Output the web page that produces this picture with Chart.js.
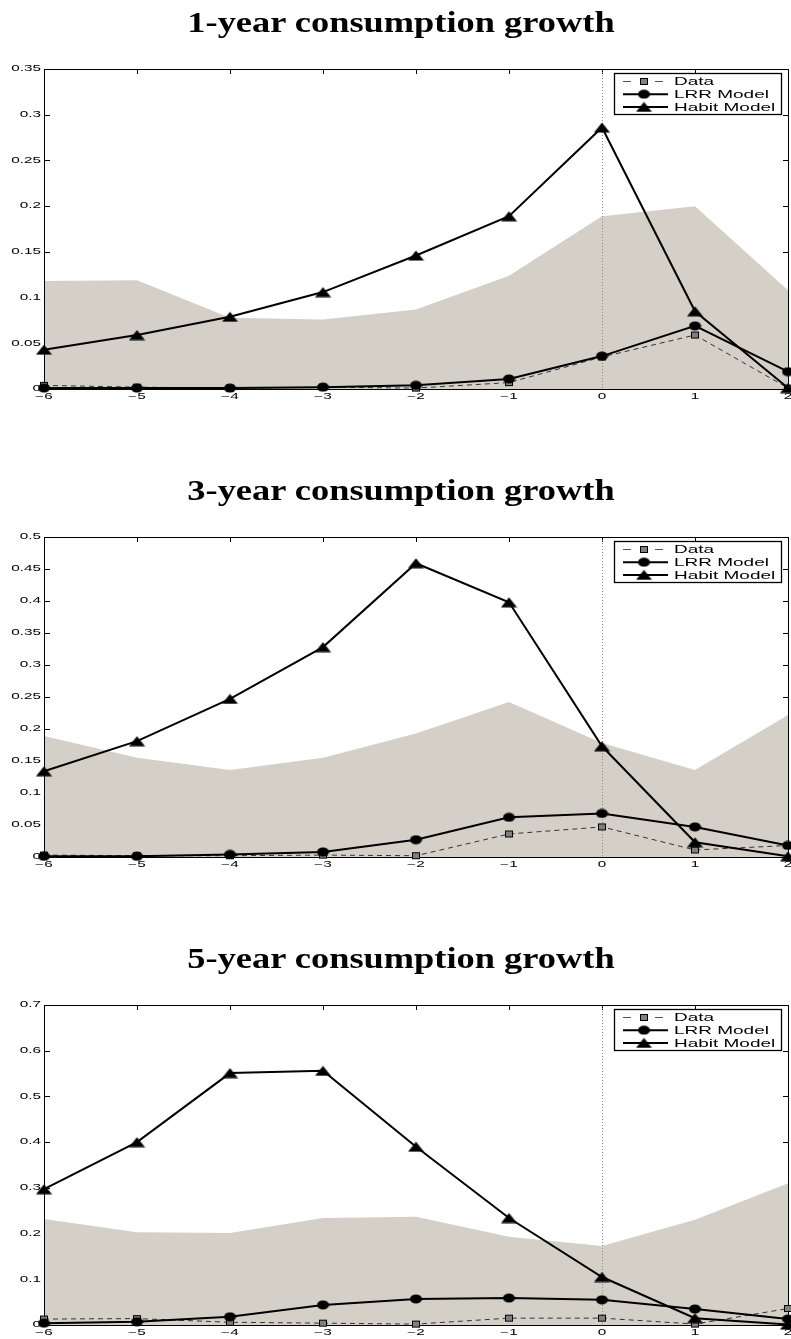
<!DOCTYPE html>
<html>
<head>
<meta charset="utf-8">
<script src="https://cdn.jsdelivr.net/npm/chart.js@4.4.1/dist/chart.umd.min.js"></script>
<style>
body { margin: 0; background: #fff; width: 791px; height: 1339px; overflow: hidden; position: relative; }
canvas { position: absolute; left: 0; }
.ttl { position: absolute; left: 401px; white-space: nowrap; font: bold 29px "Liberation Serif", serif; line-height: 30px; color: #000; transform-origin: center; }
</style>
</head>
<body>
<canvas id="c0" width="791" height="468" style="top:0"></canvas>
<canvas id="c1" width="791" height="468" style="top:468px"></canvas>
<canvas id="c2" width="791" height="403" style="top:936px"></canvas>
<div class="ttl" id="t0" style="top:7px"></div>
<div class="ttl" id="t1" style="top:475px"></div>
<div class="ttl" id="t2" style="top:943px"></div>
<script>
// horizon in years relative to the event
const xLabels = ['\u22126', '\u22125', '\u22124', '\u22123', '\u22122', '\u22121', '0', '1', '2'];
const titles = ['1-year consumption growth', '3-year consumption growth', '5-year consumption growth'];
const seriesNames = ['Data', 'LRR Model', 'Habit Model'];

// y axis tick settings per panel
const yMax = [0.35, 0.5, 0.7];
const yStep = [0.05, 0.05, 0.1];

// shaded band (upper edge, filled down to zero)
const band1 = [0.118, 0.119, 0.078, 0.076, 0.087, 0.124, 0.189, 0.200, 0.108];
const band3 = [0.189, 0.155, 0.136, 0.155, 0.193, 0.242, 0.178, 0.136, 0.222];
const band5 = [0.232, 0.203, 0.201, 0.234, 0.237, 0.193, 0.173, 0.230, 0.310];

const data1 = [0.004, 0.002, 0.001, 0.002, 0.001, 0.007, 0.035, 0.059, 0.001];
const data3 = [0.003, 0.002, 0.002, 0.003, 0.002, 0.036, 0.047, 0.011, 0.018];
const data5 = [0.013, 0.014, 0.006, 0.004, 0.002, 0.015, 0.015, 0.002, 0.036];

const lrr1 = [0.001, 0.001, 0.001, 0.002, 0.004, 0.011, 0.036, 0.069, 0.019];
const lrr3 = [0.001, 0.001, 0.004, 0.008, 0.027, 0.062, 0.068, 0.047, 0.018];
const lrr5 = [0.004, 0.007, 0.018, 0.044, 0.057, 0.059, 0.055, 0.035, 0.013];

const habit1 = [0.043, 0.059, 0.079, 0.106, 0.146, 0.189, 0.286, 0.085, 0.001];
const habit3 = [0.134, 0.181, 0.247, 0.328, 0.459, 0.398, 0.173, 0.023, 0.001];
const habit5 = [0.297, 0.400, 0.551, 0.556, 0.390, 0.234, 0.105, 0.015, 0.001];

const bands = [band1, band3, band5];
const datas = [data1, data3, data5];
const lrrs = [lrr1, lrr3, lrr5];
const habits = [habit1, habit3, habit5];

const bandColor = '#d4d0c8';
const PLOT_TOP = 69, PLOT_BOTTOM = 389;

function marker(w, h, draw) {
    const c = document.createElement('canvas');
    c.width = w; c.height = h;
    draw(c.getContext('2d'), w, h);
    return c;
}
const squareImg = marker(10, 9, (g, w, h) => {
    g.fillStyle = '#808080'; g.fillRect(1, 1, w - 2, h - 2);
    g.strokeStyle = '#000'; g.lineWidth = 1; g.strokeRect(1.5, 1.5, w - 3, h - 3);
});
const circleImg = marker(13, 10, (g, w, h) => {
    g.fillStyle = '#000'; g.beginPath(); g.ellipse(w / 2, h / 2, w / 2 - 0.5, h / 2 - 0.5, 0, 0, Math.PI * 2); g.fill();
});
const triImg = marker(17, 11, (g, w, h) => {
    g.fillStyle = '#000'; g.beginPath(); g.moveTo(0.5, h - 0.5); g.lineTo(w / 2, 0.5); g.lineTo(w - 0.5, h - 0.5); g.closePath(); g.fill();
});
const markerImgs = [squareImg, circleImg, triImg];

function stretchedText(ctx, text, x, y, font, sx, align) {
    ctx.save();
    ctx.translate(x, y);
    ctx.scale(sx, 1);
    ctx.font = font;
    ctx.fillStyle = '#000';
    ctx.textAlign = align;
    ctx.textBaseline = 'middle';
    ctx.fillText(text, 0, 0);
    ctx.restore();
}

const matlabAxes = {
    id: 'matlabAxes',
    beforeDatasetsDraw(chart) {
        const { ctx, chartArea: a, scales: { x, y } } = chart;
        ctx.save();
        ctx.strokeStyle = '#000';
        ctx.lineWidth = 1;
        ctx.beginPath();
        ctx.moveTo(a.right + 0.5, a.top); ctx.lineTo(a.right + 0.5, a.bottom);
        x.ticks.forEach((t, i) => {
            const px = Math.round(x.getPixelForTick(i)) + 0.5;
            ctx.moveTo(px, a.top); ctx.lineTo(px, a.top + 5);
            ctx.moveTo(px, a.bottom); ctx.lineTo(px, a.bottom - 5);
        });
        y.ticks.forEach(t => {
            const py = Math.round(y.getPixelForValue(t.value)) + 0.5;
            ctx.moveTo(a.left, py); ctx.lineTo(a.left + 6, py);
            ctx.moveTo(a.right, py); ctx.lineTo(a.right - 5, py);
        });
        ctx.stroke();
        ctx.restore();

        // tick labels
        const f = '8.5px "Liberation Sans", Arial, sans-serif';
        y.ticks.forEach(t => {
            stretchedText(ctx, String(Number(t.value.toFixed(2))), a.left - 3, y.getPixelForValue(t.value), f, 1.8, 'right');
        });
        x.ticks.forEach((t, i) => {
            stretchedText(ctx, x.getLabelForValue(t.value), x.getPixelForTick(i), a.bottom + 7.5, f, 1.8, 'center');
        });
    },
    afterDatasetDraw(chart, args) {
        if (args.index !== 0) return;
        const { ctx, chartArea: a, scales: { x } } = chart;
        ctx.save();
        const zx = Math.round(x.getPixelForValue(xLabels.indexOf('0'))) + 0.5;
        ctx.strokeStyle = '#888';
        ctx.lineWidth = 1;
        ctx.setLineDash([1, 2]);
        ctx.beginPath();
        ctx.moveTo(zx, a.top); ctx.lineTo(zx, a.bottom);
        ctx.stroke();
        ctx.setLineDash([]);
        ctx.strokeStyle = '#000';
        ctx.beginPath();
        ctx.moveTo(a.right, a.top + 0.5); ctx.lineTo(a.left + 0.5, a.top + 0.5);
        ctx.lineTo(a.left + 0.5, a.bottom + 0.5); ctx.lineTo(a.right, a.bottom + 0.5);
        ctx.stroke();
        ctx.restore();
    },
    afterDatasetsDraw(chart) {
        const { ctx, chartArea: a } = chart;
        const bw = 167, bh = 41;
        const bx = a.right - 174, by = a.top + 4;
        ctx.save();
        ctx.fillStyle = '#fff';
        ctx.fillRect(bx, by, bw, bh);
        ctx.strokeStyle = '#000';
        ctx.lineWidth = 1.3;
        ctx.strokeRect(bx + 0.5, by + 0.5, bw, bh);
        seriesNames.forEach((name, i) => {
            const ry = by + 8.5 + i * 12.7;
            ctx.beginPath();
            if (i === 0) {
                ctx.strokeStyle = '#555';
                ctx.lineWidth = 1;
                ctx.moveTo(bx + 9, ry); ctx.lineTo(bx + 17, ry);
                ctx.moveTo(bx + 41, ry); ctx.lineTo(bx + 49, ry);
            } else {
                ctx.strokeStyle = '#000';
                ctx.lineWidth = 2;
                ctx.moveTo(bx + 9, ry); ctx.lineTo(bx + 54, ry);
            }
            ctx.stroke();
            const img = markerImgs[i];
            ctx.drawImage(img, bx + 30 - img.width / 2, ry - img.height / 2);
            stretchedText(ctx, name, bx + 60, ry + 0.5, '11.5px "Liberation Sans", Arial, sans-serif', 1.65, 'left');
        });
        ctx.restore();
    }
};

function renderPanel(i) {
    const canvas = document.getElementById('c' + i);
    const H = canvas.height;
    new Chart(canvas.getContext('2d'), {
        type: 'line',
        data: {
            labels: xLabels,
            datasets: [
                { label: 'band', data: bands[i], fill: 'origin', backgroundColor: bandColor,
                  borderColor: 'rgba(0,0,0,0)', borderWidth: 1, pointRadius: 0, order: 4 },
                { label: seriesNames[0], data: datas[i], fill: false, borderColor: '#333', borderWidth: 1,
                  borderDash: [5, 4], pointStyle: squareImg, pointRadius: 5, clip: false, order: 3 },
                { label: seriesNames[1], data: lrrs[i], fill: false, borderColor: '#000', borderWidth: 2,
                  pointStyle: circleImg, pointRadius: 5, clip: false, order: 2 },
                { label: seriesNames[2], data: habits[i], fill: false, borderColor: '#000', borderWidth: 2,
                  pointStyle: triImg, pointRadius: 6, clip: false, order: 1 }
            ]
        },
        options: {
            responsive: false,
            animation: false,
            events: [],
            layout: { autoPadding: false, padding: { top: PLOT_TOP, right: 3, left: 0, bottom: 0 } },
            plugins: { legend: { display: false }, tooltip: { enabled: false } },
            scales: {
                x: {
                    type: 'category',
                    offset: false,
                    grid: { display: false },
                    border: { display: false },
                    ticks: { display: false, autoSkip: false, maxRotation: 0 },
                    afterFit: s => { s.height = H - PLOT_BOTTOM; s.paddingLeft = 0; s.paddingRight = 0; }
                },
                y: {
                    min: 0,
                    max: yMax[i],
                    grid: { display: false },
                    border: { display: false },
                    ticks: { display: false, stepSize: yStep[i] },
                    afterFit: s => { s.width = 44; s.paddingTop = 0; s.paddingBottom = 0; }
                }
            }
        },
        plugins: [matlabAxes]
    });

    const t = document.getElementById('t' + i);
    t.textContent = titles[i];
    const sx = 428 / t.offsetWidth;
    t.style.transform = 'translateX(-50%) scaleX(' + sx.toFixed(3) + ')';
}

document.addEventListener('DOMContentLoaded', () => {
    [0, 1, 2].forEach(renderPanel);
});
</script>
</body>
</html>
